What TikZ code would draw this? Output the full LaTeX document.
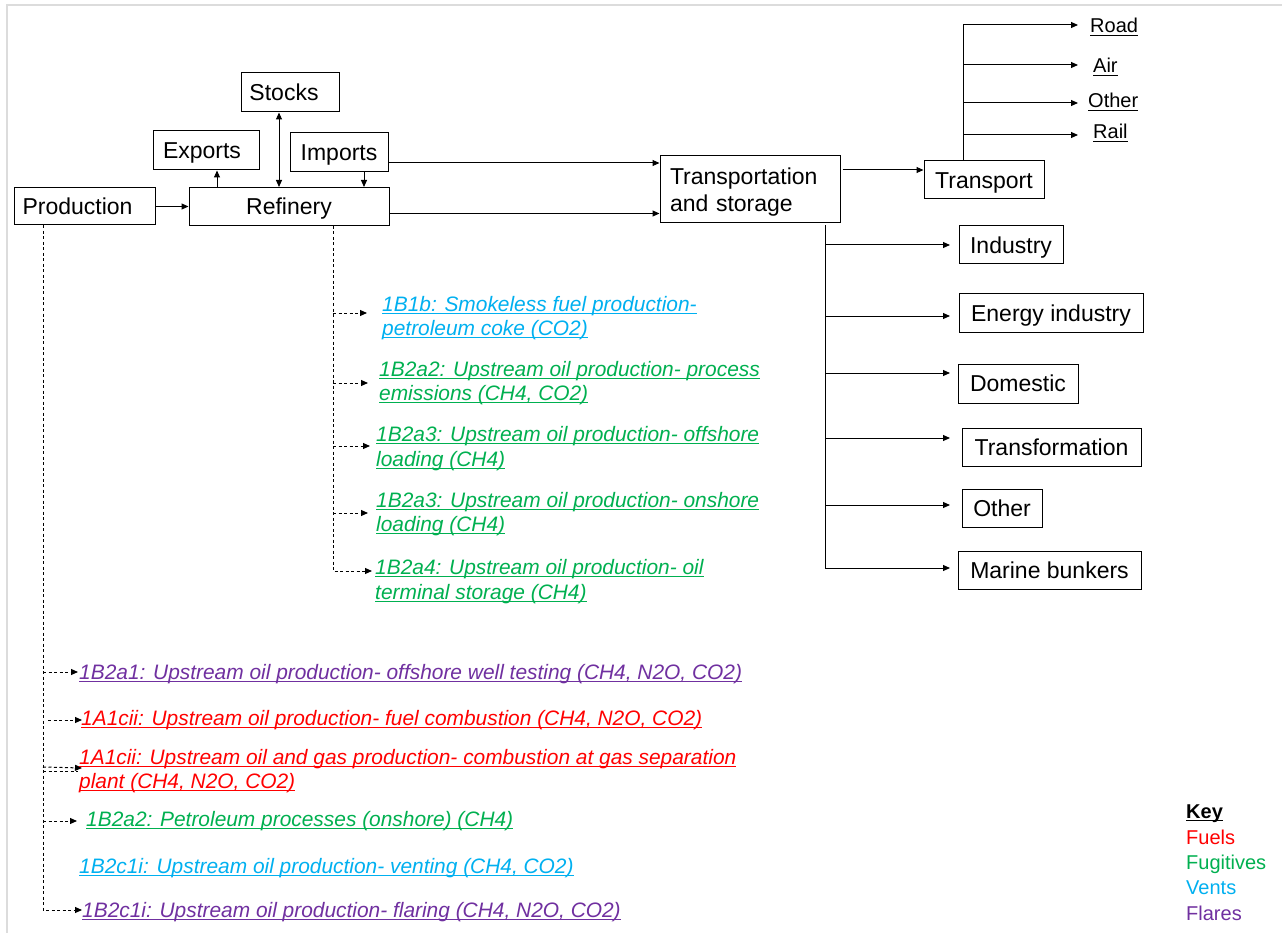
\documentclass[tikz,border=0pt]{standalone}
\usepackage{fontspec}
\setmainfont{Liberation Sans}
\usetikzlibrary{arrows.meta}
\definecolor{cfuel}{RGB}{255,0,0}
\definecolor{cfug}{RGB}{0,176,80}
\definecolor{cvent}{RGB}{0,176,240}
\definecolor{cflare}{RGB}{112,48,160}
\definecolor{framegray}{RGB}{220,220,220}
\newsavebox\ulb
\newcommand\ulx[1]{\sbox\ulb{#1}\rlap{\rule[-3pt]{\wd\ulb}{1.4pt}}\usebox\ulb}
\begin{document}
\begin{tikzpicture}[x=1pt,y=-1pt,
 box/.style={draw, line width=1pt, inner sep=0pt, font=\fontsize{23}{27}\selectfont, text height=16.5pt, text depth=0pt},
 conn/.style={line width=1pt},
 arr/.style={conn, -{Triangle[length=7pt,width=6pt]}},
 dbl/.style={conn, {Triangle[length=7pt,width=6pt]}-{Triangle[length=7pt,width=6pt]}},
 dline/.style={line width=1pt, dash pattern=on 3pt off 2.5pt},
 darr/.style={dline, -{Triangle[length=7pt,width=6pt]}},
 lbl/.style={anchor=base west, inner sep=0pt, font=\fontsize{20.9}{24.5}\selectfont\itshape},
 klbl/.style={anchor=base west, inner sep=0pt, font=\fontsize{20}{24}\selectfont},
]
\useasboundingbox (0,0) rectangle (1282,933);
\fill[white] (0,0) rectangle (1282,933);
\draw[framegray, line width=2.5pt] (7,933) -- (7,5) -- (1282,5);

% main boxes
\node[box, minimum width=141pt, minimum height=37pt] (prod) at (84.5,206.5) {\hspace*{-14pt}Production};
\node[box, minimum width=200pt, minimum height=38pt] (ref) at (289,206.5) {Refinery};
\node[box, minimum width=106pt, minimum height=39pt] (exp) at (206,150.5) {\hspace*{-8pt}Exports};
\node[box, minimum width=98pt, minimum height=39pt] (stk) at (290,92.5) {\hspace*{-12pt}Stocks};
\node[box, minimum width=98pt, minimum height=39pt] (imp) at (339,152.5) {Imports};
\node[draw, line width=1pt, inner sep=0pt, minimum width=180pt, minimum height=67pt, text width=160pt, align=left, font=\fontsize{23}{27}\selectfont] (tas) at (750,189.5) {\rule{0pt}{22.5pt}Transportation\\and storage};
\node[box, minimum width=120pt, minimum height=38pt] (trn) at (984,180) {Transport};
\node[box, minimum width=104pt, minimum height=38pt] (ind) at (1011,245) {Industry};
\node[box, minimum width=184pt, minimum height=38pt] (eng) at (1051,313) {Energy industry};
\node[box, minimum width=120pt, minimum height=39pt] (dom) at (1018,383.5) {Domestic};
\node[box, minimum width=179pt, minimum height=38pt] (trf) at (1051.5,447) {Transformation};
\node[box, minimum width=80pt, minimum height=38pt] (oth) at (1002,508) {Other};
\node[box, minimum width=183pt, minimum height=38pt] (mar) at (1049.5,570) {Marine bunkers};

% top connectors
\draw[arr] (prod.east) -- (prod.east -| ref.west);
\coordinate (ex) at ([xshift=11pt]exp.south);
\draw[arr] (ex |- ref.north) -- (ex);
\coordinate (sx) at ([xshift=-11pt]stk.south);
\draw[dbl] (sx) -- (sx |- ref.north);
\coordinate (ix) at ([xshift=25pt]imp.south);
\draw[arr] (ix) -- (ix |- ref.north);
\coordinate (iy) at ([yshift=-10.5pt]imp.east);
\draw[arr] (iy) -- (iy -| tas.west);
\coordinate (ry) at ([yshift=-7pt]ref.east);
\draw[arr] (ry) -- (ry -| tas.west);
\coordinate (ty) at ([yshift=10pt]trn.west);
\draw[arr] ([xshift=2pt]tas.east |- ty) -- (ty);

% transport modes
\node[klbl] (road) at (1090,33) {\ulx{Road}};
\node[klbl] (air) at (1093,73) {\ulx{Air}};
\node[klbl] (otr) at (1088,108) {\ulx{Other}};
\node[klbl] (rail) at (1093,139) {\ulx{Rail}};
\coordinate (tb) at ([xshift=-21pt]trn.north);
\coordinate (tt) at (963,25);
\draw[conn] (tb) -- (tt);
\draw[arr] (tt) -- (1078,25);
\draw[arr] (963,65) -- (1078,65);
\draw[arr] (963,103) -- (1078,103);
\draw[arr] (963,135) -- (1078,135);

% end uses
\coordinate (vt) at ([xshift=75pt,yshift=-2pt]tas.south);
\coordinate (vb) at (825,568);
\draw[arr] (vt) -- (vb) -- (950,568);
\draw[arr] (825,245) -- (950,245);
\draw[arr] (825,316) -- (950,316);
\draw[arr] (825,373) -- (950,373);
\draw[arr] (825,438) -- (950,438);
\draw[arr] (825,505) -- (950,505);

% refinery emissions
\coordinate (rt) at ([xshift=44pt]ref.south);
\draw[darr] (rt) -- (333,571) -- (372,571);
\draw[darr] (333,313) -- (367,313);
\draw[darr] (333,383) -- (368,383);
\draw[darr] (333,446) -- (370,446);
\draw[darr] (333,513) -- (368,513);

\node[lbl, cvent] (l1a) at (382,311) {\ulx{1B1b: Smokeless fuel production-}};
\node[lbl, cvent] (l1b) at (382,335) {\ulx{petroleum coke (CO2)}};
\node[lbl, cfug] (l2a) at (379,376) {\ulx{1B2a2: Upstream oil production- process}};
\node[lbl, cfug] (l2b) at (379,400) {\ulx{emissions (CH4, CO2)}};
\node[lbl, cfug] (l3a) at (376,441) {\ulx{1B2a3: Upstream oil production- offshore}};
\node[lbl, cfug] (l3b) at (376,466) {\ulx{loading (CH4)}};
\node[lbl, cfug] (l4a) at (376,507) {\ulx{1B2a3: Upstream oil production- onshore}};
\node[lbl, cfug] (l4b) at (376,531) {\ulx{loading (CH4)}};
\node[lbl, cfug] (l5a) at (375,574) {\ulx{1B2a4: Upstream oil production- oil}};
\node[lbl, cfug] (l5b) at (375,599) {\ulx{terminal storage (CH4)}};

% production emissions
\coordinate (pt) at ([xshift=-41.5pt]prod.south);
\draw[darr] (pt) -- (43,910) -- (82,910);
\draw[darr] (43,672) -- (78,672);
\draw[darr] (48,720) -- (82,720);
\draw[darr] (43,767) -- (82,768);
\draw[dline] (43,771) -- (78,771);
\draw[darr] (43,821) -- (77,821);

\node[lbl, cflare] (p1) at (79,679) {\ulx{1B2a1: Upstream oil production- offshore well testing (CH4, N2O, CO2)}};
\node[lbl, cfuel] (p2) at (81,725) {\ulx{1A1cii: Upstream oil production- fuel combustion (CH4, N2O, CO2)}};
\node[lbl, cfuel] (p3a) at (79,764) {\ulx{1A1cii: Upstream oil and gas production- combustion at gas separation}};
\node[lbl, cfuel] (p3b) at (79,788) {\ulx{plant (CH4, N2O, CO2)}};
\node[lbl, cfug] (p4) at (86,826) {\ulx{1B2a2: Petroleum processes (onshore) (CH4)}};
\node[lbl, cvent] (p5) at (79,873) {\ulx{1B2c1i: Upstream oil production- venting (CH4, CO2)}};
\node[lbl, cflare] (p6) at (82,917) {\ulx{1B2c1i: Upstream oil production- flaring (CH4, N2O, CO2)}};

% key
\node[klbl, font=\fontsize{20}{24}\selectfont\bfseries] (key) at (1186,818) {\ulx{Key}};
\node[klbl, cfuel] (kf) at (1186,844) {Fuels};
\node[klbl, cfug] (kg) at (1186,869) {Fugitives};
\node[klbl, cvent] (kv) at (1186,894) {Vents};
\node[klbl, cflare] (kl) at (1186,920) {Flares};
\end{tikzpicture}
\end{document}
